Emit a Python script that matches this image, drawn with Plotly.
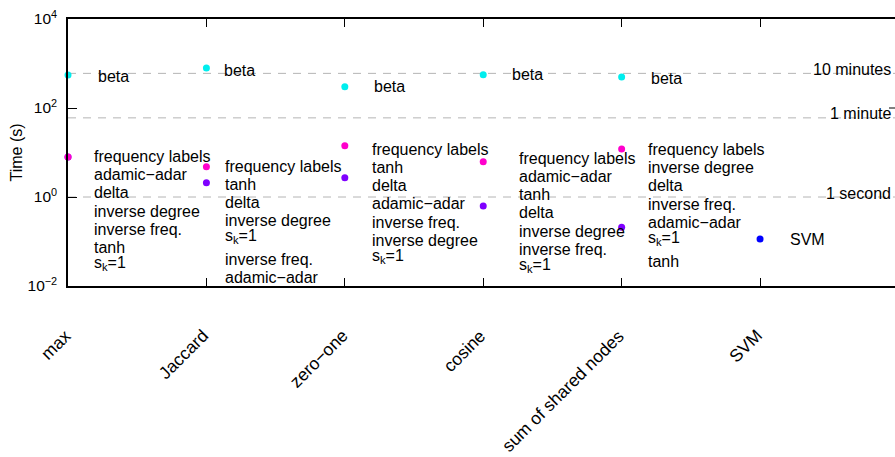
import math
import plotly.graph_objects as go

# Categories (similarity measures) along the x axis
categories = ["max", "Jaccard", "zero−one", "cosine", "sum of shared nodes", "SVM"]

# Running times in seconds per similarity measure
beta_time = [552, 792, 301, 560, 497]        # beta weighting
slowest_time = [7.9, 4.8, 14.2, 6.2, 12.0]    # slowest of the other weightings
fastest_time = [7.9, 2.1, 2.7, 0.63, 0.21]    # fastest of the other weightings
svm_time = [0.114]                            # SVM baseline

# Weightings listed next to each measure, slowest first
weight_labels = [
    ["frequency labels", "adamic−adar", "delta", "inverse degree", "inverse freq.", "tanh", "s<sub>k</sub>=1"],
    ["frequency labels", "tanh", "delta", "inverse degree", "s<sub>k</sub>=1", "inverse freq.", "adamic−adar"],
    ["frequency labels", "tanh", "delta", "adamic−adar", "inverse freq.", "inverse degree", "s<sub>k</sub>=1"],
    ["frequency labels", "adamic−adar", "tanh", "delta", "inverse degree", "inverse freq.", "s<sub>k</sub>=1"],
    ["frequency labels", "inverse degree", "delta", "inverse freq.", "adamic−adar", "s<sub>k</sub>=1", "tanh"],
]

# Reference durations drawn as dashed guides
guide_names = ["10 minutes", "1 minute", "1 second"]
guide_seconds = [600, 60, 1]

# y tick labels
ytick_vals = [0.01, 1, 100, 10000]
ytick_text = ["10<sup>−2</sup>", "10<sup>0</sup>", "10<sup>2</sup>", "10<sup>4</sup>"]

FONT = "Liberation Sans, Arial, Helvetica, sans-serif"
FS = 16
X_MAX = 5.975
Y_RANGE = (-2, 4)

C_BETA = "#00eeee"
C_SLOW = "#ff00cc"
C_FAST = "#7f00ff"
C_SVM = "#0000ff"

# pixel offsets of the text blocks relative to their point
beta_dx = [28, 16, 27, 27, 27]
beta_dy = [2, 2, 0, 0, 1]
group_dx = [24, 17, 25, 34, 24]
group_dy = [0, 0, 4, -3, 1]
svm_dx = 28

fig = go.Figure()

# dashed guide lines
for sec in guide_seconds:
    fig.add_trace(go.Scatter(
        x=[0, X_MAX], y=[sec, sec], mode="lines",
        line=dict(color="#b4b4b4", width=1, dash="8px,7px"),
        hoverinfo="skip", showlegend=False,
    ))

idx = list(range(len(beta_time)))
fig.add_trace(go.Scatter(x=idx, y=beta_time, mode="markers",
                         marker=dict(color=C_BETA, size=7), cliponaxis=False, name="beta"))
fig.add_trace(go.Scatter(x=idx, y=fastest_time, mode="markers",
                         marker=dict(color=C_FAST, size=7), cliponaxis=False, name="fastest"))
fig.add_trace(go.Scatter(x=idx, y=slowest_time, mode="markers",
                         marker=dict(color=C_SLOW, size=7), cliponaxis=False, name="slowest"))
fig.add_trace(go.Scatter(x=[5], y=svm_time, mode="markers",
                         marker=dict(color=C_SVM, size=7), cliponaxis=False, name="SVM"))

annotations = []
K = 11  # box top to text middle


def line_offsets(lines):
    offs, y, prev_sub = [], 0.0, False
    for i, t in enumerate(lines):
        is_sub = "<sub>" in t
        if i > 0:
            y += 15 if is_sub else (24 if prev_sub else 18.2)
        offs.append(y)
        prev_sub = is_sub
    return offs


for i in idx:
    annotations.append(dict(
        x=i, y=math.log10(beta_time[i]), xref="x", yref="y", text="beta",
        showarrow=False, xanchor="left", yanchor="middle",
        xshift=beta_dx[i], yshift=-beta_dy[i],
        font=dict(family=FONT, size=FS, color="black"),
    ))
    lines = weight_labels[i]
    for t, off in zip(lines, line_offsets(lines)):
        annotations.append(dict(
            x=i, y=math.log10(slowest_time[i]), xref="x", yref="y", text=t,
            showarrow=False, xanchor="left", yanchor="top",
            xshift=group_dx[i], yshift=-(group_dy[i] + off) + K,
            font=dict(family=FONT, size=FS, color="black"),
        ))

annotations.append(dict(
    x=5, y=math.log10(svm_time[0]), xref="x", yref="y", text="SVM",
    showarrow=False, xanchor="left", yanchor="middle", xshift=svm_dx, yshift=-1,
    font=dict(family=FONT, size=FS, color="black"),
))

for name, sec in zip(guide_names, guide_seconds):
    annotations.append(dict(
        x=1, y=math.log10(sec), xref="paper", yref="y", text=name,
        showarrow=False, xanchor="right", yanchor="middle", xshift=-2, yshift=4,
        font=dict(family=FONT, size=FS, color="black"),
    ))

# rotated category labels under the axis
for i, cat in enumerate(categories):
    annotations.append(dict(
        x=i, y=0, xref="x", yref="paper", text=cat, textangle=-45,
        showarrow=False, xanchor="right", yanchor="top", xshift=9, yshift=-37,
        font=dict(family=FONT, size=17.5, color="black"),
    ))

# mirrored tick on the right edge at 10^2
frac = (2 - Y_RANGE[0]) / (Y_RANGE[1] - Y_RANGE[0])
shapes = [dict(type="line", xref="paper", yref="paper", x0=1 - 6 / 827, x1=1,
               y0=frac, y1=frac, line=dict(color="black", width=1))]

fig.update_layout(
    width=895, height=457,
    margin=dict(l=68, r=0, t=19, b=171),
    paper_bgcolor="white", plot_bgcolor="white",
    showlegend=False,
    annotations=annotations,
    shapes=shapes,
    font=dict(family=FONT, size=FS, color="black"),
    xaxis=dict(
        range=[0, X_MAX], tickmode="array", tickvals=list(range(len(categories))),
        showticklabels=False, ticks="inside", ticklen=8,
        tickcolor="black", showline=True, linecolor="black", linewidth=1.5,
        mirror="ticks", showgrid=False, zeroline=False,
    ),
    yaxis=dict(
        type="log", range=list(Y_RANGE), tickmode="array", tickvals=ytick_vals,
        ticktext=ytick_text, ticks="inside", ticklen=9, tickcolor="black",
        showline=True, linecolor="black", linewidth=1.5, showgrid=False,
        zeroline=False, tickfont=dict(family=FONT, size=15.5), ticklabelstandoff=6,
        title=dict(text="Time (s)", font=dict(family=FONT, size=FS), standoff=1),
    ),
)

fig.write_html("out.html")
